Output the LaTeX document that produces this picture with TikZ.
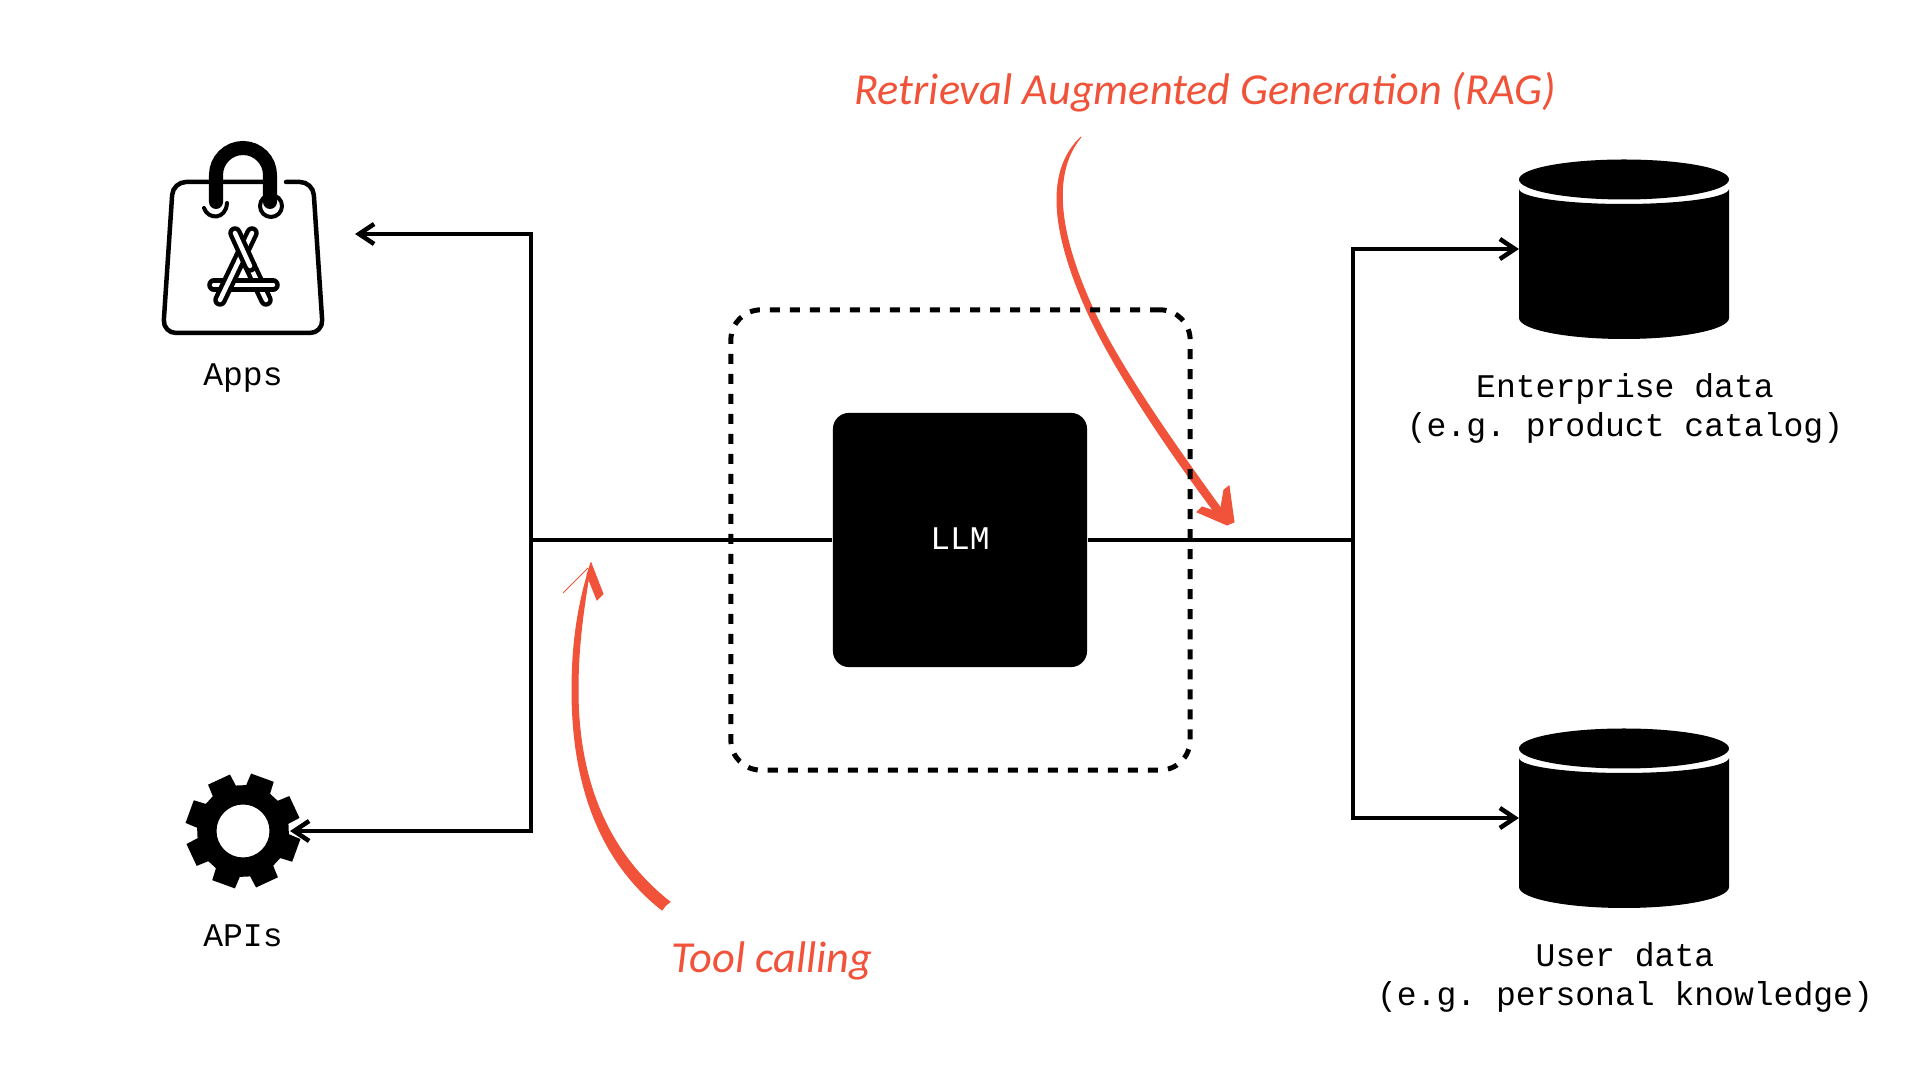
\documentclass[tikz,border=0pt]{standalone}
\usepackage{fontspec}
\usepackage{tikz}
\usetikzlibrary{arrows.meta,positioning,calc}
\setmonofont{Liberation Mono}
\newfontfamily\handfont{Carlito}
\definecolor{handred}{HTML}{F0533A}
\tikzset{
  lbllabel/.style={font=\ttfamily\fontsize{9.4}{11.1}\selectfont, align=center, inner sep=0pt},
  lblhand/.style={font=\handfont\itshape\fontsize{12.6}{15}\selectfont, text=handred, inner sep=0pt},
  lbllm/.style={fill=black, rounded corners=0.16cm, minimum width=2.54cm, minimum height=2.54cm, inner sep=0pt, text=white, font=\ttfamily\fontsize{9.4}{11.1}\selectfont},
  lblanchor/.style={inner sep=0pt, outer sep=0pt},
  flowline/.style={line width=0.045cm},
  flowarrow/.style={line width=0.045cm, -{Straight Barb[length=0.15cm, width=0.2cm, line width=0.045cm]}},
  dashbox/.style={draw, line width=0.05cm, dash pattern=on 0.1cm off 0.1cm, rounded corners=0.3cm},
  handink/.style={draw=handred, fill=handred, line width=0.01cm},
  appstick/.style={line width=0.045cm, double=white, double distance=0.045cm, line cap=round},
  datastore/.pic={
    \fill (0,-69.5) circle[x radius=105, y radius=20];
    \fill (-105,-60) arc[start angle=180, end angle=0, x radius=105, y radius=15]
      -- (105,69) arc[start angle=0, end angle=180, x radius=105, y radius=21] -- cycle;
  },
}
\begin{document}
\begin{tikzpicture}[x=0.01cm, y=-0.01cm]
  \useasboundingbox (0,0) rectangle (1920,1080);

  \node[lbllm] (llm) at (960,540) {\raisebox{1pt}{LLM}};
  \node[lblanchor, minimum width=2.24cm, minimum height=2cm] (apps) at (243,234) {};
  \node[lblanchor, minimum width=0.94cm, minimum height=1.14cm] (apis) at (243,831) {};
  \node[lblanchor, minimum width=2.1cm, minimum height=1.8cm] (entstore) at (1624,249) {};
  \node[lblanchor, minimum width=2.1cm, minimum height=1.8cm] (usrstore) at (1624,818) {};
  \coordinate (hubl) at (531,540);
  \coordinate (hubr) at (1353,540);

  % icons
  \draw[line width=0.045cm, line join=round, rounded corners=0.13cm, line cap=round]
    (286,182) -- (313,182) -- (323,333) -- (163,333) -- (173,182) -- (265,182);
  \draw[line width=0.04cm, fill=white] (271,206) circle[radius=11];
  \draw[line width=0.04cm, line cap=round] (204,208) .. controls (208,220) and (226,220) .. (227,203);
  \draw[line width=0.14cm, line cap=round] (216,202) -- (216,175) arc[start angle=180, end angle=360, radius=27] -- (270,202);
  \draw[appstick] (250,266) -- (266,300);
  \draw[appstick] (214,285) -- (273,285);
  \draw[appstick] (252,233) -- (220,300);
  \draw[appstick] (235,233) -- (250,266);
  \fill[even odd rule, shift={(apis.center)}] (20-16:46)
    \foreach \a in {20,65,...,335} { -- (\a-16:46) -- (\a-12:58) -- (\a+12:58) -- (\a+16:46) } -- cycle
    (0,0) circle[radius=26.5];
  \pic at (entstore) {datastore};
  \pic at (usrstore) {datastore};

  % connectors
  \draw[flowarrow, preaction={draw=white, line width=0.09cm, shorten >=0.02cm}] (hubl) |- (apis.east);
  \draw[flowarrow] (hubl) |- (apps.east);
  \draw[flowline] (llm.west) -- (hubl);
  \draw[flowline] (llm.east) -- (hubr);
  \draw[flowarrow] (hubr) |- (entstore.west);
  \draw[flowarrow] (hubr) |- (usrstore.west);

  % hand written notes
  \node[lblhand] (ragnote) at (1205,92) {Retrieval Augmented Generation (RAG)};
  \node[lblhand] (toolnote) at (772,961) {Tool calling};
  \coordinate (ragstart) at (1081,137);
  \coordinate (ragtip) at (1228,518);
  \coordinate (toolstart) at (666,905);
  \coordinate (tooltip) at (591,563);
  \draw[handink] (ragstart) .. controls (1058,165) and (1050,215) .. (1093,309)
    .. controls (1118,364) and (1173,443) .. (ragtip)
    -- (1222,522) .. controls (1165,447) and (1112,366) .. (1087,311)
    .. controls (1044,215) and (1052,165) .. cycle;
  \draw[handink] (1224,490) -- (1229,486) -- (1234,522) -- (1227,525) -- (1197,512) -- (1202,507) -- (1220,513) -- cycle;
  \draw[handink] (toolstart) -- (662,910) .. controls (606,866) and (572,795) .. (572,690)
    .. controls (572,640) and (579,600) .. (tooltip)
    .. controls (585,600) and (578,640) .. (578,690)
    .. controls (578,790) and (614,858) .. (670,902) -- cycle;
  \draw[handink] (tooltip) -- (603,594) -- (597,600) -- (587,575) -- cycle;
  \draw[handink] (588,568) -- (563,593);

  % guard rail round the model
  \node[dashbox, minimum width=4.59cm, minimum height=4.6cm, inner sep=0pt] (guard) at (960.5,540) {};

  \node[lbllabel] (appslbl) at (243,378) {Apps};
  \node[lbllabel] (apislbl) at (243,936) {APIs};
  \node[lbllabel] (entlbl) at (1625,408) {Enterprise data\\(e.g. product catalog)};
  \node[lbllabel] (usrlbl) at (1625,977) {User data\\(e.g. personal knowledge)};
\end{tikzpicture}
\end{document}
